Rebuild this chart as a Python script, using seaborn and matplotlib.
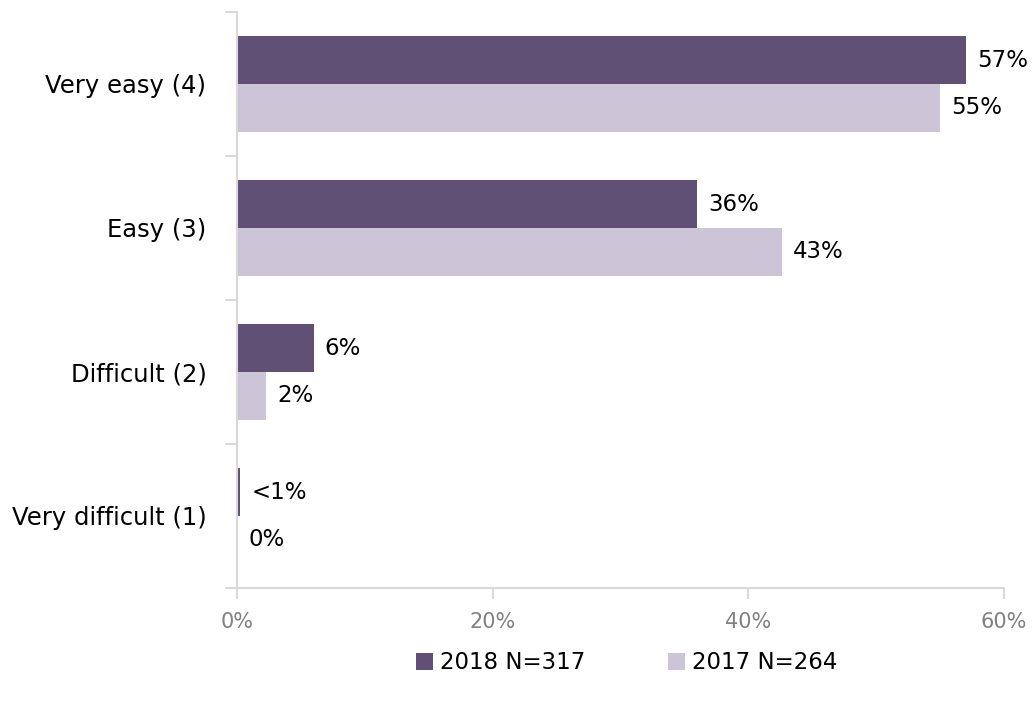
import matplotlib
matplotlib.use("Agg")
import matplotlib.pyplot as plt
import seaborn as sns
import pandas as pd

categories = ["Very easy (4)", "Easy (3)", "Difficult (2)", "Very difficult (1)"]
values_2018 = [57, 36, 6, 0.25]
values_2017 = [55, 42.6, 2.3, 0]
labels_2018 = ["57%", "36%", "6%", "<1%"]
labels_2017 = ["55%", "43%", "2%", "0%"]
series = ["2018 N=317", "2017 N=264"]
colors = ["#604a7b", "#ccc1da"]

df = pd.DataFrame({
    "Category": categories * 2,
    "Value": values_2018 + values_2017,
    "Series": [series[0]] * 4 + [series[1]] * 4,
})

sns.set_style("white")
plt.rcParams["font.family"] = ["DejaVu Sans"]

fig = plt.figure(figsize=(10.32, 7.02), dpi=100)
ax = fig.add_axes([237 / 1032, 1 - 588 / 702, (1004 - 237) / 1032, (588 - 12) / 702])

sns.barplot(
    df, x="Value", y="Category", hue="Series", orient="h",
    palette=colors, width=0.66, ax=ax, legend=True, linewidth=0,
)

for container, labs in zip(ax.containers, [labels_2018, labels_2017]):
    ax.bar_label(container, labels=labs, padding=8, fontsize=16.5, color="#000000")

ax.set_xlim(0, 60)
ax.set_ylim(3.5, -0.5)
ax.set_xticks([0, 20, 40, 60])
ax.set_xticklabels(["0%", "20%", "40%", "60%"], color="#808080", fontsize=15)
ax.set_yticks([-0.5, 0.5, 1.5, 2.5, 3.5], minor=False)
ax.set_yticklabels([])
ax.set_yticks([0, 1, 2, 3], minor=True)
ax.set_yticklabels(categories, minor=True, fontsize=17.5, color="#000000")
ax.tick_params(axis="y", which="major", length=9, color="#d9d9d9", width=1.5, direction="out", left=True)
ax.tick_params(axis="y", which="minor", length=0, pad=22)
ax.tick_params(axis="x", length=8, color="#d9d9d9", width=1.5, direction="out", bottom=True, pad=9)
ax.set_xlabel("")
ax.set_ylabel("")
for side in ["top", "right"]:
    ax.spines[side].set_visible(False)
for side in ["left", "bottom"]:
    ax.spines[side].set_color("#d9d9d9")
    ax.spines[side].set_linewidth(1.5)

leg = ax.legend(
    loc="center", bbox_to_anchor=(0.508, -0.13), ncol=2, frameon=False,
    fontsize=16.5, handlelength=0.75, handleheight=0.75, handletextpad=0.3, columnspacing=3.6,
)
for t in leg.get_texts():
    t.set_color("#000000")

fig.savefig("out.png", dpi=100)
